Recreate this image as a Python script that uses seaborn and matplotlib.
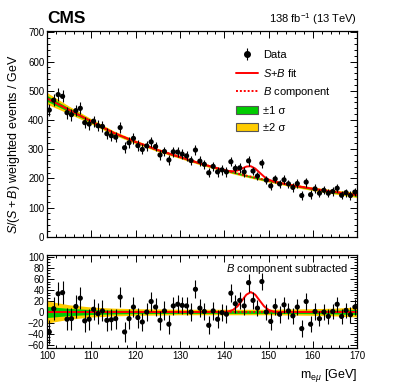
import numpy as np
import matplotlib
matplotlib.use("Agg")
import matplotlib.pyplot as plt
import seaborn as sns
from matplotlib.patches import Patch
from matplotlib.lines import Line2D
from matplotlib.ticker import MultipleLocator

# 1 GeV bins, 100-170 GeV
mass = np.arange(100.5, 170.0, 1.0)

data = [434, 468, 487, 481, 425, 418, 432, 440, 391, 386,
        396, 380, 378, 353, 346, 341, 374, 305, 322, 337,
        312, 299, 311, 325, 309, 280, 292, 263, 291, 290,
        283, 277, 261, 297, 259, 248, 219, 241, 222, 229,
        222, 257, 234, 236, 222, 260, 225, 208, 252, 194,
        174, 198, 181, 195, 181, 169, 182, 141, 187, 144,
        164, 149, 159, 149, 155, 166, 142, 151, 141, 153]

resid = [-36, 6, 33, 35, -13, -12, 10, 25, -16, -13,
         5, -3, 2, -15, -14, -12, 27, -36, -12, 9,
         -10, -18, 0, 19, 9, -15, 2, -22, 11, 14,
         12, 11, 0, 41, 7, 1, -24, 2, -13, -1,
         -4, 34, 15, 21, 11, 53, 21, 7, 55, 0,
         -17, 10, -4, 13, 2, -7, 9, -30, 19, -22,
         1, -12, 0, -8, 1, 14, -8, 3, -5, 9]

err = [21, 21, 21, 21, 20, 20, 20, 20, 20, 19,
       19, 19, 19, 19, 19, 18, 18, 18, 18, 18,
       18, 17, 17, 17, 17, 17, 17, 17, 17, 16,
       16, 16, 16, 16, 16, 16, 16, 16, 16, 16,
       16, 16, 16, 16, 16, 16, 15, 15, 15, 15,
       15, 15, 15, 15, 15, 15, 15, 15, 15, 15,
       15, 14, 14, 14, 14, 14, 14, 14, 14, 14]

# background fit and its uncertainty bands
bkg_mass = [100, 105, 110, 115, 120, 125, 130, 135, 140, 145, 150, 155, 160, 165, 170]
bkg = [474, 434, 395, 356, 325, 297, 273, 249, 228, 209, 192, 177, 164, 153, 143]
one_sig = [10, 6.5, 4.5, 3.5, 3, 2.7, 2.5, 2.5, 2.5, 2.5, 2.5, 2.7, 3, 3.5, 4.5]
two_sig = [20, 13, 9, 7, 6, 5.5, 5, 5, 5, 5, 5, 5.5, 6, 7, 9]

# signal component
sig_mass = [100, 139, 140, 141, 142, 143, 144, 145, 146, 147, 148, 149, 150, 151, 152, 153, 170]
sig = [0, 0, 0.3, 1.1, 3.9, 10.3, 20.7, 31.3, 36, 31.3, 20.7, 10.3, 3.9, 1.1, 0.3, 0, 0]

GREEN = '#00CC00'
YELLOW = '#FFCC00'

sns.set_style("ticks")
plt.rcParams['font.family'] = ['Liberation Sans', 'DejaVu Sans']
plt.rcParams.update({
    'mathtext.fontset': 'custom',
    'mathtext.rm': 'Liberation Sans',
    'mathtext.it': 'Liberation Sans:italic',
    'mathtext.bf': 'Liberation Sans:bold',
    'axes.linewidth': 0.9,
    'text.color': 'black',
    'xtick.color': 'black',
    'ytick.color': 'black',
    'axes.edgecolor': 'black',
})

bkg_mass = np.array(bkg_mass, float)
bkg = np.array(bkg, float)
one_sig = np.array(one_sig)
two_sig = np.array(two_sig)

grid = np.union1d(bkg_mass, sig_mass)
splusb = np.interp(grid, bkg_mass, bkg) + np.interp(grid, sig_mass, sig)

fig = plt.figure(figsize=(3.99, 3.85), dpi=100)
ax1 = fig.add_axes([0.118, 0.3852, 0.777, 0.5343])
ax2 = fig.add_axes([0.118, 0.0961, 0.777, 0.2416])

# main panel
ax1.fill_between(bkg_mass, bkg - two_sig, bkg + two_sig, color=YELLOW, lw=0)
ax1.fill_between(bkg_mass, bkg - one_sig, bkg + one_sig, color=GREEN, lw=0)
sns.lineplot(x=bkg_mass, y=bkg, ax=ax1, color='red', lw=1.4, ls=(0, (1, 1)))
sns.lineplot(x=grid, y=splusb, ax=ax1, color='red', lw=1.4)
ax1.errorbar(mass, data, yerr=err, fmt='none', ecolor='black', elinewidth=0.8, zorder=4)
sns.scatterplot(x=mass, y=data, ax=ax1, color='black', s=14, edgecolor='none', zorder=5)

ax1.set_xlim(100, 170)
ax1.set_ylim(0, 705)
ax1.set_xlabel('')
ax1.set_ylabel('')

# lower panel, background subtracted
zeros = np.zeros_like(bkg_mass)
ax2.fill_between(bkg_mass, -two_sig, two_sig, color=YELLOW, lw=0)
ax2.fill_between(bkg_mass, -one_sig, one_sig, color=GREEN, lw=0)
sns.lineplot(x=bkg_mass, y=zeros, ax=ax2, color='red', lw=1.4, ls=(0, (1, 1)))
sns.lineplot(x=sig_mass, y=sig, ax=ax2, color='red', lw=1.4)
ax2.errorbar(mass, resid, yerr=err, fmt='none', ecolor='black', elinewidth=0.8, zorder=4)
sns.scatterplot(x=mass, y=resid, ax=ax2, color='black', s=14, edgecolor='none', zorder=5)

ax2.set_xlim(100, 170)
ax2.set_ylim(-65, 103)
ax2.set_xlabel('')
ax2.set_ylabel('')

for ax in (ax1, ax2):
    ax.xaxis.set_major_locator(MultipleLocator(10))
    ax.xaxis.set_minor_locator(MultipleLocator(2))
    ax.tick_params(which='both', direction='in', top=True, right=True,
                   labelsize=7, pad=2, width=0.7)
    ax.tick_params(which='major', length=5)
    ax.tick_params(which='minor', length=2.5)
    for s in ax.spines.values():
        s.set_visible(True)

ax1.yaxis.set_major_locator(MultipleLocator(100))
ax1.yaxis.set_minor_locator(MultipleLocator(20))
ax1.tick_params(labelbottom=False)
ax2.yaxis.set_major_locator(MultipleLocator(20))
ax2.yaxis.set_minor_locator(MultipleLocator(5))

data_handle = (Line2D([0], [0], color='black', marker='|', markersize=9, mew=0.8, ls='none'),
               Line2D([0], [0], color='black', marker='o', markersize=4, ls='none'))
handles = [
    data_handle,
    Line2D([0], [0], color='red', lw=1.4),
    Line2D([0], [0], color='red', lw=1.4, ls=(0, (1, 1))),
    Patch(facecolor=GREEN, edgecolor='#555555', lw=0.8),
    Patch(facecolor=YELLOW, edgecolor='#555555', lw=0.8),
]
labels = ['Data', '$S$+$B$ fit', '$B$ component', '±1 σ', '±2 σ']
ax1.legend(handles, labels, loc='upper left', bbox_to_anchor=(0.59, 0.935),
           frameon=False, fontsize=8, handlelength=2.0, handletextpad=0.45,
           labelspacing=0.6, borderpad=0)

fig.text(0.118, 0.94, 'CMS', fontsize=12.5, fontweight='bold', ha='left', va='baseline')
fig.text(0.895, 0.94, '138 fb$^{-1}$ (13 TeV)', fontsize=8, ha='right', va='baseline')
fig.text(0.036, 0.625, '$S/(S+B)$ weighted events / GeV', fontsize=9,
         rotation=90, ha='center', va='center')
ax2.text(0.97, 0.92, '$B$ component subtracted', transform=ax2.transAxes,
         fontsize=8, ha='right', va='top')
fig.text(0.895, 0.018, 'm$_{\\mathrm{e}\\mu}$ [GeV]', fontsize=9, ha='right', va='baseline')

fig.savefig('out.png', dpi=100)
